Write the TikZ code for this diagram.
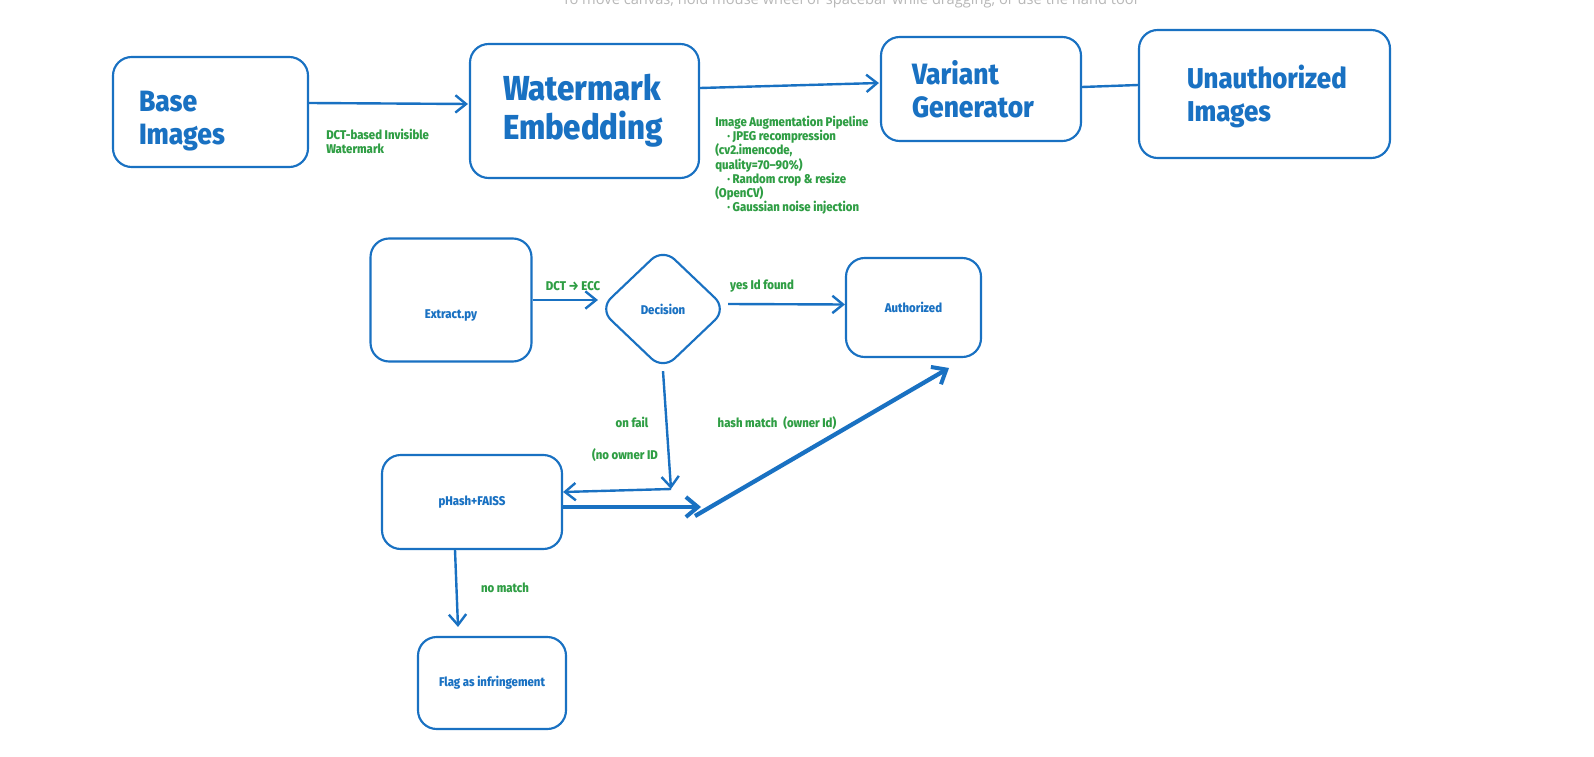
\documentclass[tikz,border=0pt]{standalone}
\usepackage{fontspec}
\setmainfont{Fira Sans}[FakeStretch=0.9, BoldFont={Fira Sans ExtraBold}]
\newfontfamily\topfont{Open Sans}
\usetikzlibrary{arrows.meta,shapes.geometric,calc}
\definecolor{eblue}{HTML}{1971C2}
\definecolor{egreen}{HTML}{2F9E44}
\definecolor{hintgray}{HTML}{B8B8B8}
\newdimen\pxu \pxu=0.75pt
\begin{document}
\begin{tikzpicture}[x=0.75pt,y=-0.75pt,
  box/.style={draw=eblue, line width=1.6pt, rounded corners=14pt, text=eblue, inner sep=0pt},
  bigtxt/.style={font=\bfseries\fontsize{22}{25}\selectfont, align=left},
  smalltxt/.style={font=\bfseries\fontsize{9.5}{11}\selectfont, align=center},
  lbl/.style={text=egreen, font=\bfseries\fontsize{9.5}{10.6}\selectfont, inner sep=0pt, align=left},
  arr/.style={draw=eblue, line width=1.8pt, -{Straight Barb[length=8pt,width=13pt,line width=1.8pt]}},
  thickarr/.style={draw=eblue, line width=3.2pt, -{Straight Barb[length=9pt,width=15pt,line width=3pt]}},
  plain/.style={draw=eblue, line width=1.8pt}]
\useasboundingbox (0,0) rectangle (1594,756);
\fill[white] (0,0) rectangle (1594,756);
\begin{scope}
\clip (0,0) rectangle (1594,756);
\node[anchor=base, text=hintgray, font=\topfont\fontsize{11}{13}\selectfont, inner sep=0pt] (hint) at (850,5) {To move canvas, hold mouse wheel or spacebar while dragging, or use the hand tool};
\end{scope}

% top row
\node[box, bigtxt, minimum width=195\pxu, minimum height=110\pxu, text width=143\pxu, text height=29pt] (base) at (210.5,112) {Base\\Images};
\node[box, bigtxt, font=\bfseries\fontsize{26}{29.5}\selectfont, minimum width=229\pxu, minimum height=134\pxu, text width=163\pxu] (wm) at (584.5,111) {Watermark\\Embedding};
\node[box, bigtxt, minimum width=200\pxu, minimum height=104\pxu, text width=138\pxu, text height=18pt] (var) at (981,89) {Variant\\Generator};
\node[box, bigtxt, font=\bfseries\fontsize{21.5}{25}\selectfont, minimum width=251\pxu, minimum height=128\pxu, text width=155\pxu, text height=21pt] (unauth) at (1264.5,94) {Unauthorized\\Images};

\draw[arr] ($(base.east)+(0,-9)$) -- ($(wm.west)+(-1,-7)$);
\node[lbl, anchor=north west] (l1) at (326,129) {DCT-based Invisible\\Watermark};
\draw[arr] ($(wm.east)+(0,-23)$) -- ($(var.west)+(-1,-6)$);
\draw[plain] ($(var.east)+(0,-2)$) -- ($(unauth.west)+(0,-9)$);
\node[lbl, anchor=north west] (l2) at (715,116) {Image Augmentation Pipeline\\
\hspace*{12\pxu}· JPEG recompression\\
(cv2.imencode,\\
quality=70–90\%)\\
\hspace*{12\pxu}· Random crop \& resize\\
(OpenCV)\\
\hspace*{12\pxu}· Gaussian noise injection};

% bottom part
\node[box, smalltxt, minimum width=161\pxu, minimum height=123\pxu, text height=30pt, text depth=2pt] (extract) at (451,300) {Extract.py};
\node[draw=eblue, line width=1.6pt, rounded corners=12pt, shape=diamond, aspect=1.05, minimum width=128\pxu, minimum height=122\pxu, text=eblue, smalltxt, inner sep=0pt] (dec) at (663,309) {Decision};
\node[box, smalltxt, minimum width=135\pxu, minimum height=99\pxu] (auth) at (913.5,307.5) {Authorized};
\node[box, smalltxt, minimum width=180\pxu, minimum height=94\pxu] (phash) at (472,502) {pHash+FAISS};
\node[box, smalltxt, minimum width=148\pxu, minimum height=92\pxu] (flag) at (492,683) {Flag as infringement};

\draw[arr] (extract.east) -- (extract.east -| dec.west);
\node[lbl, anchor=center] (l3) at (573,286) {DCT → ECC};
\draw[arr] ($(dec.east)+(0,-5)$) -- ($(auth.west)+(0,-3)$);
\node[lbl, anchor=center] (l4) at (762,286) {yes Id found};

\coordinate (c1) at (671,489);
\draw[arr] (dec.south) -- (c1);
\draw[arr] (c1) -- ($(phash.east)+(0,-10)$);
\node[lbl, anchor=center] (l5) at (632,422) {on fail};
\node[lbl, anchor=center] (l6) at (625,455) {(no owner ID};

\coordinate (h1) at (701,507);
\coordinate (h2) at (695,516);
\coordinate (h3) at (949,368);
\draw[thickarr] ($(phash.east)+(0,5)$) -- (h1);
\draw[thickarr] (h2) -- (h3);
\node[lbl, anchor=center] (l7) at (777,423) {hash match\hspace{6\pxu}(owner Id)};

\draw[arr] ($(phash.south)+(-17,0)$) -- ($(flag.north)+(-34,-9)$);
\node[lbl, anchor=center] (l8) at (505,588) {no match};
\end{tikzpicture}
\end{document}
